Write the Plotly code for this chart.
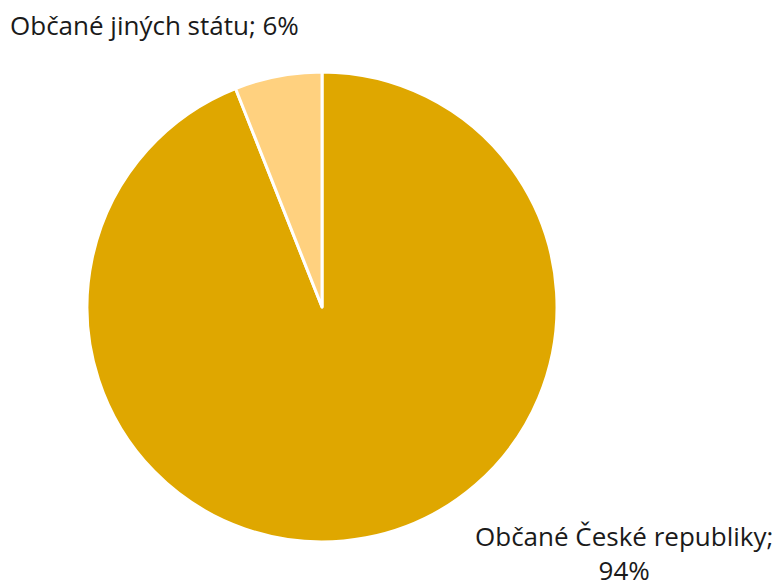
import plotly.graph_objects as go

labels = ["Občané České republiky", "Občané jiných státu"]
values = [94, 6]
colors = ["#DFA700", "#FFD17F"]

fig = go.Figure(go.Pie(
    labels=labels,
    values=values,
    sort=False,
    direction="clockwise",
    rotation=0,
    marker=dict(colors=colors, line=dict(color="white", width=3)),
    textinfo="none",
    hoverinfo="label+percent",
    domain=dict(x=[0.1113, 0.7123], y=[0.0782, 0.8776]),
    showlegend=False,
))

font = dict(family="Open Sans, sans-serif", size=26, color="#1a1a1a")
fig.add_annotation(
    text=f"{labels[1]}; {values[1]}%",
    x=8/782, y=1 - 25/588, xref="paper", yref="paper",
    xanchor="left", yanchor="middle", showarrow=False, font=font,
)
fig.add_annotation(
    text=f"{labels[0]};<br>{values[0]}%",
    x=624/782, y=1 - 553/588, xref="paper", yref="paper",
    xanchor="center", yanchor="middle", showarrow=False, font=font, align="center",
)

fig.update_layout(
    width=782, height=588,
    margin=dict(l=0, r=0, t=0, b=0),
    paper_bgcolor="white", plot_bgcolor="white",
)
fig.write_html("out.html")
